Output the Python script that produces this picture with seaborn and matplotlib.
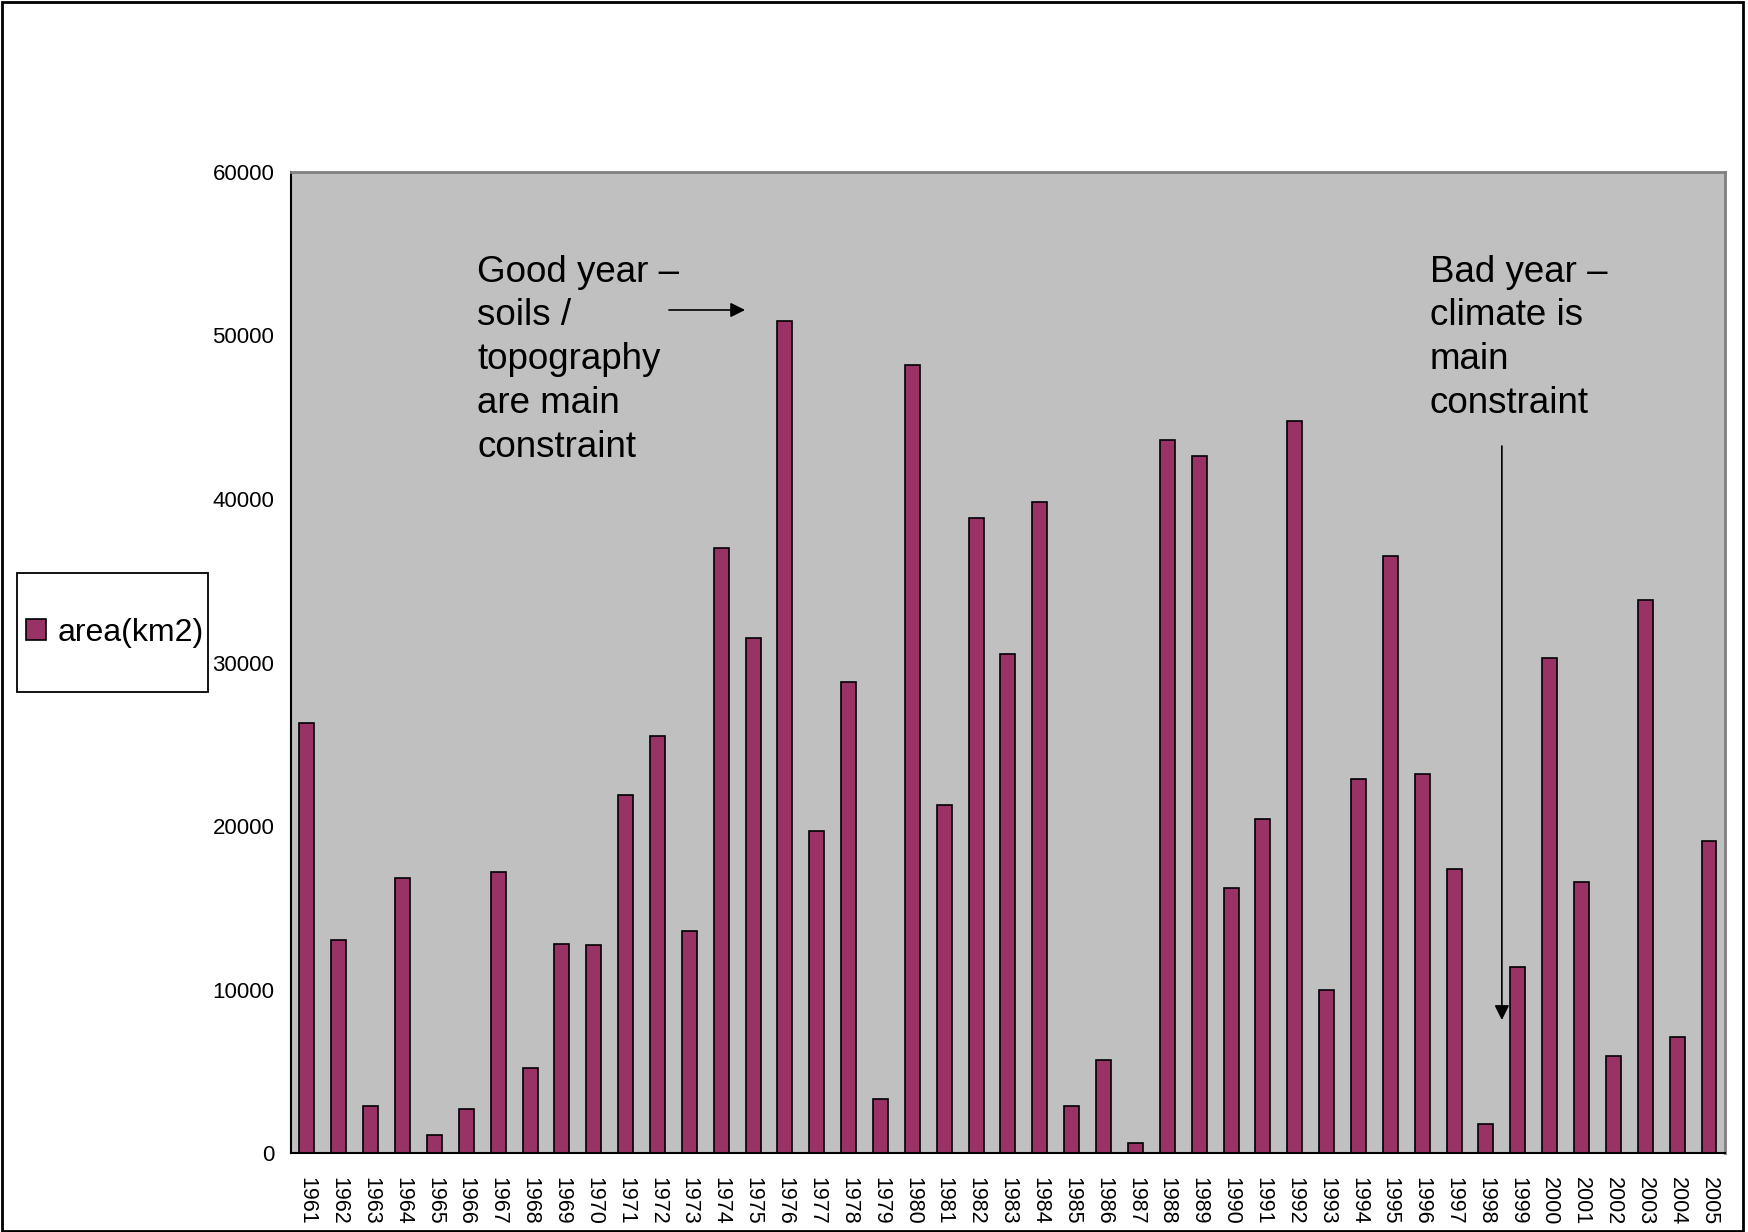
import numpy as np
import pandas as pd
import matplotlib.pyplot as plt
import matplotlib.patches as mpatches
import seaborn as sns

# data
years = [str(y) for y in range(1961, 2006)]
area = [26300, 13000, 2900, 16850, 1080, 2680, 17200, 5200, 12800, 12700,
        21900, 25500, 13550, 37000, 31500, 50900, 19700, 28800, 3300, 48200,
        21300, 38850, 30550, 39800, 2870, 5720, 640, 43600, 42650, 16200,
        20450, 44750, 9960, 22900, 36500, 23200, 17400, 1790, 11350, 30250,
        16600, 5930, 33850, 7090, 19060]
y_ticks = [0, 10000, 20000, 30000, 40000, 50000, 60000]
series_name = 'area(km2)'

good_text = 'Good year \u2013\nsoils /\ntopography\nare main\nconstraint'
bad_text = 'Bad year \u2013\nclimate is\nmain\nconstraint'

df = pd.DataFrame({'year': years, 'area': area})

sns.set_style('white')
plt.rcParams['font.family'] = ['Liberation Sans', 'DejaVu Sans']
plt.rcParams['text.color'] = 'black'
plt.rcParams['xtick.color'] = 'black'
plt.rcParams['ytick.color'] = 'black'

fig = plt.figure(figsize=(17.48, 12.32), dpi=100)
ax = fig.add_axes([0.1665, 0.0641, 0.8203, 0.7963])
ax.set_facecolor('#C0C0C0')

sns.barplot(data=df, x='year', y='area', color='#993366', saturation=1,
            width=0.47, edgecolor='black', linewidth=1.2, label=series_name, ax=ax)

ax.set_xlim(-0.5, len(years) - 0.5)
ax.set_ylim(0, 60000)
ax.set_yticks(y_ticks)
ax.set_yticklabels([str(v) for v in y_ticks], fontsize=16)
ax.set_xlabel('')
ax.set_ylabel('')

# year labels at bar centres, tick marks at category boundaries
ax.set_xticks(np.arange(len(years)))
ax.set_xticklabels(years, rotation=270, fontsize=15.5)
ax.tick_params(axis='x', which='major', length=0, pad=17)
ax.set_xticks(np.arange(-0.5, len(years)), minor=True)
ax.tick_params(axis='x', which='minor', direction='inout', length=12, width=1.2, color='black')
ax.tick_params(axis='y', direction='inout', length=12, width=1.2, color='black', pad=6)

for side in ['left', 'bottom']:
    ax.spines[side].set_color('black')
    ax.spines[side].set_linewidth(1.5)
for side in ['top', 'right']:
    ax.spines[side].set_color('#808080')
    ax.spines[side].set_linewidth(2)

# annotations
ax.text(5.34, 54950, good_text, fontsize=26.5, va='top', ha='left', linespacing=1.33)
ax.text(35.24, 54950, bad_text, fontsize=26.5, va='top', ha='left', linespacing=1.33)
ax.annotate('', xy=(13.75, 51560), xytext=(11.36, 51560),
            arrowprops=dict(arrowstyle='-|>', mutation_scale=22, color='black',
                            lw=1.2, shrinkA=0, shrinkB=0))
ax.annotate('', xy=(37.5, 8135), xytext=(37.5, 43240),
            arrowprops=dict(arrowstyle='-|>', mutation_scale=22, color='black',
                            lw=1.2, shrinkA=0, shrinkB=0))

# legend box on the left
handles, labels = ax.get_legend_handles_labels()
if ax.get_legend():
    ax.get_legend().remove()
fig.legend(handles, labels, loc='center left',
           bbox_to_anchor=(4 / 1748, 1 - 633 / 1232), frameon=False,
           fontsize=23, handlelength=0.62, handleheight=0.62,
           handletextpad=0.35, borderpad=0.2)
fig.patches.append(mpatches.Rectangle((17 / 1748, 1 - 692 / 1232), 191 / 1748, 119 / 1232,
                                      transform=fig.transFigure, fill=False,
                                      edgecolor='black', linewidth=1.3))

# outer border of the figure
fig.patches.append(mpatches.Rectangle((2 / 1748, 1.5 / 1232), 1741 / 1748, 1228.5 / 1232,
                                      transform=fig.transFigure, fill=False,
                                      edgecolor='black', linewidth=2))

fig.savefig('out.png', dpi=100)
